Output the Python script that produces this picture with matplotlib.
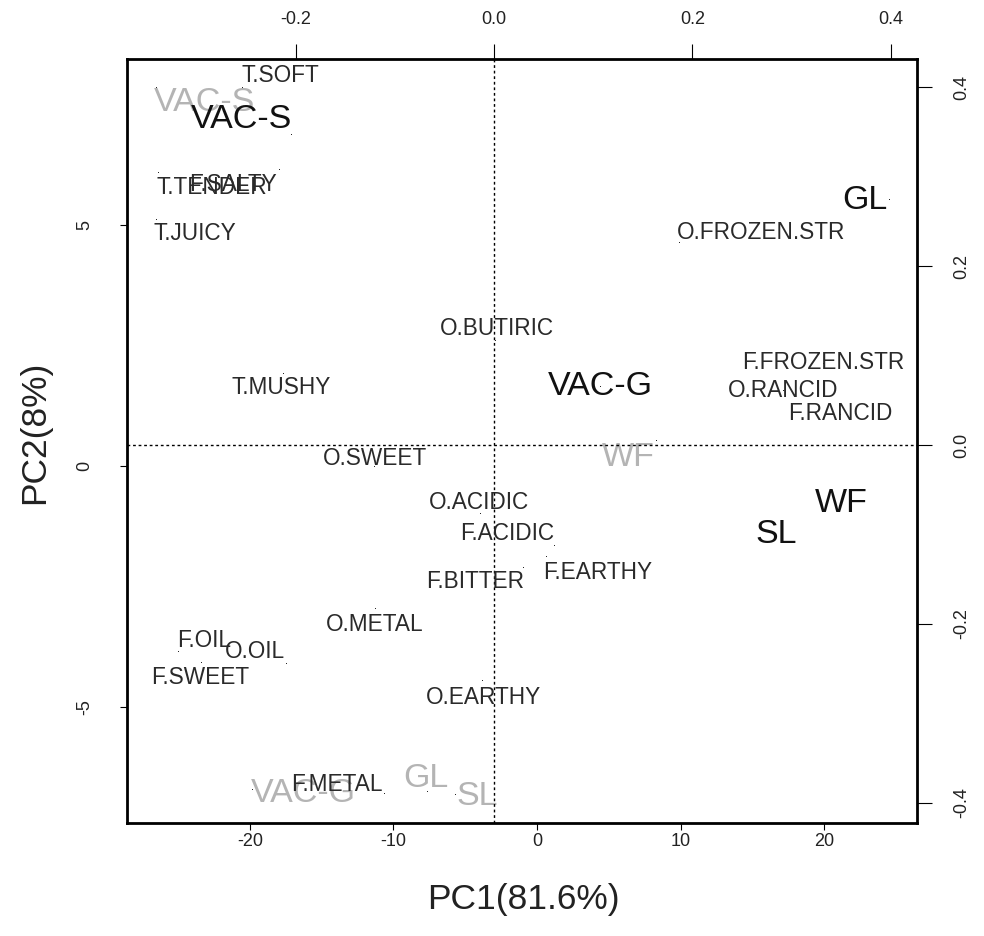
import matplotlib
matplotlib.use("Agg")
import matplotlib.pyplot as plt

plt.rcParams['font.family'] = ['Liberation Sans', 'DejaVu Sans']

# ---- sample scores (bottom/left axes) ----
obs_names = ["VAC-S", "GL", "VAC-G", "WF", "SL"]
obs_x = [-17.14, 24.53, 4.39, 21.18, 16.66]
obs_y = [6.90, 5.55, 1.66, -0.77, -1.43]
obs_lx = [-20.56, 22.86, 4.39, 21.18, 16.66]
obs_ly = [7.21, 5.51, 1.66, -0.77, -1.43]

# ---- supplementary sample points (grey) ----
sup_names = ["VAC-S", "WF", "VAC-G", "GL", "SL"]
sup_x = [-26.55, 8.29, -19.86, -7.67, -5.71]
sup_y = [7.88, 0.54, -6.72, -6.76, -6.82]
sup_lx = [-23.14, 6.34, -16.31, -7.74, -4.18]
sup_ly = [7.55, 0.17, -6.80, -6.49, -6.86]

# ---- variable loadings (top/right axes) ----
var_names = ["T.SOFT", "T.TENDER", "F.SALTY", "T.JUICY", "T.MUSHY", "O.SWEET",
             "O.BUTIRIC", "F.FROZEN.STR", "O.RANCID", "F.RANCID", "O.FROZEN.STR",
             "O.ACIDIC", "F.ACIDIC", "F.EARTHY", "F.BITTER", "O.METAL", "F.OIL",
             "O.OIL", "F.SWEET", "O.EARTHY", "F.METAL"]
var_x = [-0.254, -0.339, -0.217, -0.341, -0.213, -0.121, 0.001, 0.332, 0.291, 0.349,
         0.186, -0.014, 0.060, 0.052, 0.029, -0.120, -0.319, -0.210, -0.295, -0.012, -0.111]
var_y = [0.400, 0.305, 0.308, 0.253, 0.080, -0.023, 0.117, 0.092, 0.061, 0.035,
         0.227, -0.076, -0.112, -0.124, -0.136, -0.182, -0.230, -0.244, -0.242, -0.263, -0.389]
var_lx = [-0.215, -0.285, -0.263, -0.302, -0.215, -0.120, 0.003, 0.332, 0.291, 0.349,
          0.269, -0.015, 0.013, 0.104, -0.019, -0.120, -0.292, -0.241, -0.296, -0.011, -0.158]
var_ly = [0.413, 0.288, 0.291, 0.236, 0.064, -0.015, 0.130, 0.092, 0.061, 0.035,
          0.237, -0.064, -0.099, -0.142, -0.153, -0.200, -0.218, -0.231, -0.260, -0.282, -0.379]

# axis ticks
score_xticks = [-20, -10, 0, 10, 20]
score_yticks = [-5, 0, 5]
load_xticks = [-0.2, 0.0, 0.2, 0.4]
load_yticks = [-0.4, -0.2, 0.0, 0.2, 0.4]
xlab = "PC1(81.6%)"
ylab = "PC2(8%)"

W, H = 984, 936
fig = plt.figure(figsize=(W / 100, H / 100), dpi=100)
L, R, T, B = 127, 917, 59, 823
pos = [L / W, 1 - B / H, (R - L) / W, (B - T) / H]

ax = fig.add_axes(pos)
ax.set_xlim(-28.57, 26.48)
ax.set_ylim(-7.42, 8.46)
for s in ax.spines.values():
    s.set_linewidth(2.0)
ax.set_xticks(score_xticks)
ax.set_xticklabels([str(v) for v in score_xticks])
ax.set_yticks(score_yticks)
ax.set_yticklabels([str(v) for v in score_yticks], rotation=90, va='center')
ax.tick_params(axis='x', direction='out', length=5, width=0.8, pad=2.5, labelsize=13,
               labelcolor='#222222')
ax.tick_params(axis='y', direction='out', length=5, width=0.8, pad=19, labelsize=13,
               labelcolor='#222222')

ax2 = fig.add_axes(pos, frameon=False)
ax2.set_xlim(-0.370, 0.4264)
ax2.set_ylim(-0.4223, 0.4313)
ax2.xaxis.tick_top()
ax2.yaxis.tick_right()
ax2.set_xticks(load_xticks)
ax2.set_xticklabels(["%.1f" % v for v in load_xticks])
ax2.set_yticks(load_yticks)
ax2.set_yticklabels(["%.1f" % v for v in load_yticks], rotation=90, va='center')
ax2.tick_params(axis='x', direction='out', length=11, width=0.8, pad=11, labelsize=13,
                labelcolor='#222222')
ax2.tick_params(axis='y', direction='out', length=11, width=0.8, pad=15, labelsize=13,
                labelcolor='#222222')

ax2.axhline(0, color='black', linestyle=(0, (2, 2)), linewidth=1.0)
ax2.axvline(0, color='black', linestyle=(0, (2, 2)), linewidth=1.0)

txt = '#2a2a2a'
dot_kw = dict(s=0.4, color='black', linewidths=0, zorder=3)
# grey supplementary
ax.scatter(sup_x, sup_y, **dot_kw)
for n, x, y in zip(sup_names, sup_lx, sup_ly):
    ax.text(x, y, n, color='#b4b4b4', fontsize=24.5, ha='center', va='center', zorder=2)

# variables
ax2.scatter(var_x, var_y, **dot_kw)
for n, x, y in zip(var_names, var_lx, var_ly):
    ax2.text(x, y, n, color=txt, fontsize=16.3, ha='center', va='center', zorder=4)

# samples
ax.scatter(obs_x, obs_y, **dot_kw)
for n, x, y in zip(obs_names, obs_lx, obs_ly):
    ax2.text(*ax2.transData.inverted().transform(ax.transData.transform((x, y))), n,
             color='#111111', fontsize=24.5, ha='center', va='center', zorder=5)

fig.text(523 / W, 1 - 900 / H, xlab, fontsize=25.5, ha='center', va='center',
         color='#222222')
fig.text(35 / W, 1 - 432 / H, ylab, fontsize=25.5, ha='center', va='center',
         rotation=90, color='#222222')

fig.savefig("out.png", dpi=100)
